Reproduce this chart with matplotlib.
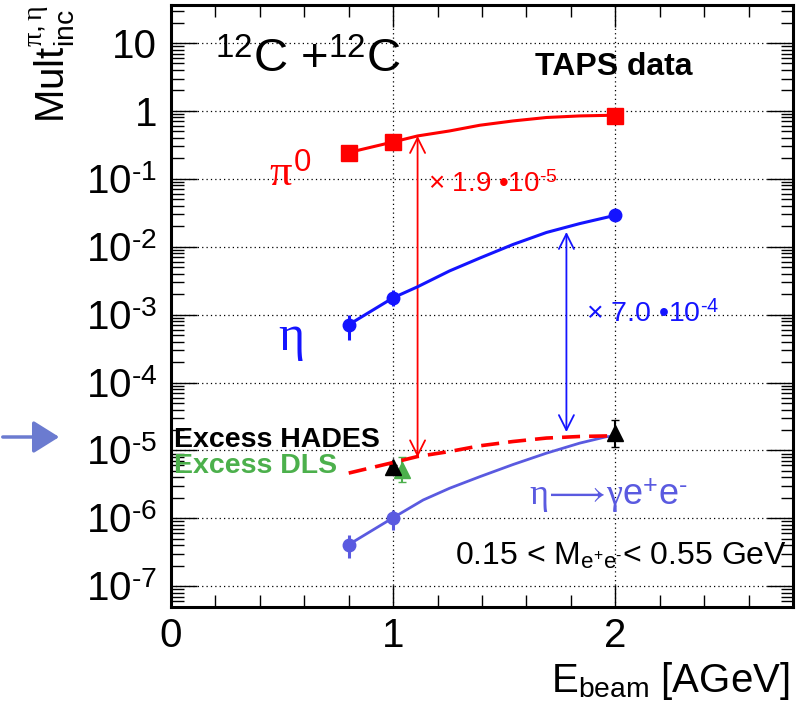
import matplotlib
matplotlib.use("Agg")
from matplotlib import pyplot as plt
from matplotlib.ticker import LogLocator, MultipleLocator, NullFormatter
import numpy as np

plt.rcParams["font.family"] = ["Liberation Sans", "DejaVu Sans"]
plt.rcParams["mathtext.fontset"] = "custom"
plt.rcParams["mathtext.rm"] = "Liberation Sans"
plt.rcParams["mathtext.it"] = "Liberation Serif"
plt.rcParams["mathtext.bf"] = "Liberation Sans:bold"

RED = "#ff0000"
BLUE = "#1414ff"
PURPLE = "#5a5ae0"
GREEN = "#4cb04c"

# TAPS measured multiplicities
pi0_x = [0.8, 1.0, 2.0]
pi0_y = [0.244, 0.35, 0.844]

eta_x = [0.8, 1.0, 2.0]
eta_y = [7.1e-4, 1.77e-3, 2.9e-2]
eta_err_lo = [2.9e-4, 4.3e-4, 0.0]
eta_err_hi = [2.8e-4, 5.3e-4, 0.0]

# eta -> gamma e+ e- (points at 0.8 and 1.0 AGeV)
ee_x = [0.8, 1.0]
ee_y = [4.1e-7, 1.02e-6]
ee_err_lo = [1.5e-7, 3.4e-7]
ee_err_hi = [1.6e-7, 3.2e-7]

# smooth curves through the data
curve_x = [0.8, 1.0, 1.11, 1.254, 1.39, 1.54, 1.69, 1.84, 2.0]
pi0_curve_y = [0.244, 0.349, 0.428, 0.507, 0.615, 0.712, 0.80, 0.844, 0.865]
eta_curve_y = [7.1e-4, 1.77e-3, 2.57e-3, 4.4e-3, 6.8e-3, 1.08e-2, 1.62e-2, 2.19e-2, 2.9e-2]
ee_curve_x = [0.8, 1.0, 1.135, 1.254, 1.39, 1.54, 1.69, 1.84, 1.96, 2.0]
ee_curve_y = [4.1e-7, 1.02e-6, 1.86e-6, 2.77e-6, 4.1e-6, 6.2e-6, 9.1e-6, 1.28e-5, 1.59e-5, 1.62e-5]

PI0_SCALE = 1.9e-5

# dilepton excess
hades_x = [1.0, 2.0]
hades_y = [5.7e-6, 1.8e-5]
hades_err_lo = [0.5e-6, 0.68e-5]
hades_err_hi = [0.5e-6, 1.0e-5]
dls_x = [1.04]
dls_y = [5.1e-6]
dls_err_lo = [1.7e-6]
dls_err_hi = [2.9e-6]

# scaling arrows: x, top, bottom
pi0_arrow = (1.11, 0.428, 7.9e-6)
eta_arrow = (1.78, 0.0165, 1.86e-5)

y_ticks = [1e-7, 1e-6, 1e-5, 1e-4, 1e-3, 1e-2, 1e-1, 1, 10]
y_ticklabels = [r"10$^{\text{-7}}$", r"10$^{\text{-6}}$", r"10$^{\text{-5}}$",
                r"10$^{\text{-4}}$", r"10$^{\text{-3}}$", r"10$^{\text{-2}}$",
                r"10$^{\text{-1}}$", "1", "10"]

fig = plt.figure(figsize=(8.02, 7.05), dpi=100)
ax = fig.add_axes([171 / 802, 1 - 607 / 705, (793 - 171) / 802, (607 - 5) / 705])
ax.set_yscale("log")
ax.set_xlim(0, 2.8)
ax.set_ylim(4.94e-8, 36.3)

for s in ax.spines.values():
    s.set_linewidth(2.2)

ax.set_xticks([0, 1, 2])
ax.set_xticklabels(["0", "1", "2"])
ax.xaxis.set_minor_locator(MultipleLocator(0.2))
ax.set_yticks(y_ticks)
ax.set_yticklabels(y_ticklabels)
ax.yaxis.set_minor_locator(LogLocator(base=10, subs=np.arange(2, 10), numticks=20))
ax.yaxis.set_minor_formatter(NullFormatter())
ax.tick_params(axis="both", which="both", direction="in", top=True, right=True, width=1.0)
ax.tick_params(axis="x", which="major", length=16, labelsize=29, pad=7)
ax.tick_params(axis="x", which="minor", length=8.5)
ax.tick_params(axis="y", which="major", length=19, labelsize=29, pad=10)
ax.tick_params(axis="y", which="minor", length=9)
ax.grid(True, which="major", ls=(0, (1, 2.5)), color="black", lw=0.9)

# curves
ax.plot(curve_x, pi0_curve_y, color=RED, lw=2.2, zorder=3)
ax.plot(curve_x, eta_curve_y, color=BLUE, lw=2.2, zorder=3)
ax.plot(ee_curve_x, ee_curve_y, color=PURPLE, lw=2.0, zorder=3)

# data points
ax.plot(pi0_x, pi0_y, "s", color=RED, ms=12, zorder=4)
ax.errorbar(eta_x, eta_y, yerr=[eta_err_lo, eta_err_hi], fmt="o", color=BLUE,
            ms=9, elinewidth=2.2, capsize=0, zorder=4)
ax.errorbar(ee_x, ee_y, yerr=[ee_err_lo, ee_err_hi], fmt="o", color=PURPLE,
            ms=9, elinewidth=2.2, capsize=0, zorder=4)
ax.errorbar(dls_x, dls_y, yerr=[dls_err_lo, dls_err_hi], fmt="^", color=GREEN,
            ms=11, elinewidth=1.5, capsize=3, zorder=4)
ax.errorbar(hades_x, hades_y, yerr=[hades_err_lo, hades_err_hi], fmt="^", color="black",
            ms=11, elinewidth=1.5, capsize=3, zorder=5)

# pi0 curve scaled to the dilepton excess
ax.plot(curve_x, np.array(pi0_curve_y) * PI0_SCALE, color=RED, lw=2.6,
        ls=(0, (5, 2.5)), zorder=6)

for (x, top, bottom), c in ((pi0_arrow, RED), (eta_arrow, BLUE)):
    ax.annotate("", xy=(x, bottom), xytext=(x, top),
                arrowprops=dict(arrowstyle="<->,head_length=0.6,head_width=0.3",
                                color=c, lw=1.3, mutation_scale=18,
                                shrinkA=0, shrinkB=0), zorder=2)

ax.text(1.155, 0.081, r"× 1.9 •10$^{\text{-5}}$", color=RED, fontsize=20, va="center")
ax.text(1.87, 1.05e-3, r"× 7.0 •10$^{\text{-4}}$", color=BLUE, fontsize=20.5, va="center")

ax.text(0.2, 5.6, "$^{12}$C +$^{12}$C", fontsize=34, va="center")
ax.text(1.64, 4.4, "TAPS data", fontsize=23, fontweight="bold", va="center")
ax.text(0.44, 0.115, r"$\pi^{0}$", color=RED, fontsize=32, va="center")
ax.text(0.48, 4.2e-4, r"$\eta$", color=BLUE, fontsize=36, va="center")
ax.text(0.015, 1.42e-5, "Excess HADES", fontsize=20.5, fontweight="bold", va="center")
ax.text(0.015, 5.9e-6, "Excess DLS", fontsize=20.5, fontweight="bold", color=GREEN, va="center")
ax.text(1.61, 2.1e-6, r"$\eta\!\longrightarrow\!\gamma\mathrm{e}^{+}\mathrm{e}^{\text{-}}$",
        color=PURPLE, fontsize=26, va="center")
ax.text(1.28, 2.8e-7, r"0.15 < M$_{\mathrm{e^{+}e^{\text{-}}}}$< 0.55 GeV", fontsize=23,
        va="center")

fig.text(27 / 802, 1 - 5 / 705, r"Mult$_{\mathrm{inc}}^{\pi,\eta}$", fontsize=29,
         rotation=90, ha="left", va="top")
fig.text(790 / 802, 0.004, r"E$_{\mathrm{beam}}$ [AGeV]", fontsize=29, ha="right", va="bottom")

# marker arrow on the left margin
fig.add_artist(matplotlib.patches.FancyArrowPatch(
    (0 / 802, 1 - 437 / 705), (62 / 802, 1 - 437 / 705), transform=fig.transFigure,
    arrowstyle="-|>,head_length=0.8,head_width=0.5", mutation_scale=20,
    color="#6b7bd0", lw=2.5))

fig.savefig("out.png", dpi=100)
